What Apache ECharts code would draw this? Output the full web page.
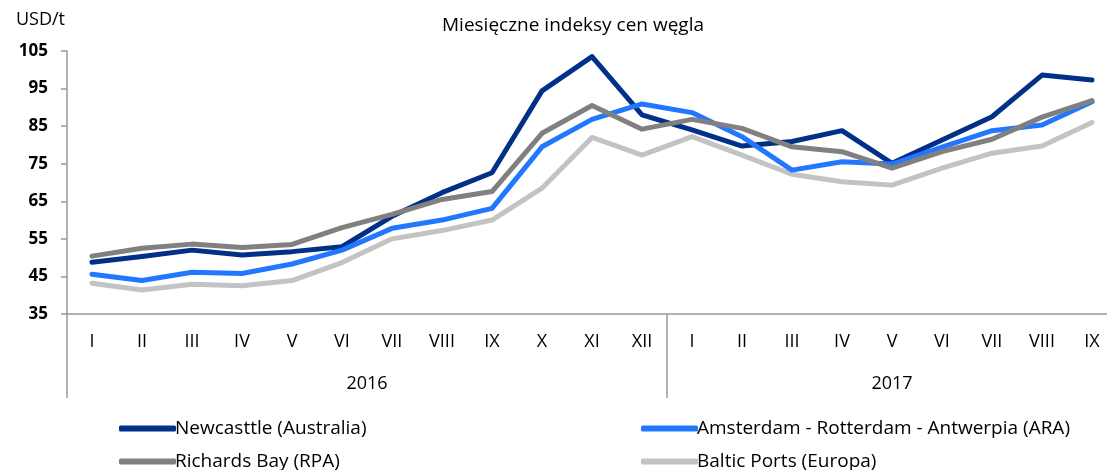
<!DOCTYPE html>
<html>
<head>
<meta charset="utf-8">
<script src="https://cdn.jsdelivr.net/npm/echarts@6/dist/echarts.min.js"></script>
<style>
  html, body { margin: 0; padding: 0; background: #fff; }
  #chart { width: 1107px; height: 470px; }
</style>
</head>
<body>
<div id="chart"></div>
<script>
const months = ['I', 'II', 'III', 'IV', 'V', 'VI', 'VII', 'VIII', 'IX', 'X', 'XI', 'XII',
  'I', 'II', 'III', 'IV', 'V', 'VI', 'VII', 'VIII', 'IX']
const years = ['2016', '2017']
const yearSpans = [12, 9]

const newcastle = [48.8, 50.3, 52.0, 50.7, 51.6, 52.9, 61.0, 67.3, 72.6, 94.4, 103.5, 88.0,
  84.0, 79.7, 80.9, 83.8, 75.1, 81.3, 87.5, 98.6, 97.3]
const ara = [45.6, 43.9, 46.1, 45.8, 48.3, 52.0, 57.8, 60.0, 63.1, 79.5, 86.8, 90.9,
  88.6, 82.2, 73.3, 75.5, 74.9, 79.4, 83.8, 85.3, 91.5]
const richardsBay = [50.4, 52.5, 53.6, 52.7, 53.5, 58.0, 61.5, 65.5, 67.6, 83.1, 90.5, 84.2,
  86.8, 84.4, 79.5, 78.2, 73.8, 78.2, 81.5, 87.4, 91.8]
const baltic = [43.2, 41.4, 42.9, 42.5, 43.9, 48.7, 55.0, 57.2, 60.0, 68.5, 82.0, 77.3,
  82.2, 77.3, 72.2, 70.2, 69.3, 73.8, 77.8, 79.7, 86.0]

const names = ['Newcasttle (Australia)', 'Amsterdam - Rotterdam - Antwerpia (ARA)',
  'Richards Bay (RPA)', 'Baltic Ports (Europa)']

// granice lat i środki etykiet na osi pomocniczej
const yearEdges = [0]
const yearMids = []
yearSpans.forEach((s, i) => {
  yearMids.push(yearEdges[i] + s / 2)
  yearEdges.push(yearEdges[i] + s)
})

const font = 'Open Sans'
const axisColor = '#999'
const textColor = '#000'

const chart = echarts.init(document.getElementById('chart'))

function line(name, data, color, z) {
  return {
    name: name,
    type: 'line',
    data: data,
    symbol: 'none',
    z: z,
    lineStyle: { width: 5, color: color, cap: 'round', join: 'round' },
    itemStyle: { color: color }
  }
}

function legendCol(left, data) {
  return {
    left: left, top: 414, height: 80, orient: 'vertical', itemGap: 14,
    itemWidth: 57, itemHeight: 6, icon: 'roundRect', itemStyle: { borderWidth: 0 },
    data: data,
    textStyle: { fontFamily: font, fontSize: 19, color: textColor, padding: [0, 0, 0, -6] }
  }
}

chart.setOption({
  animation: false,
  textStyle: { fontFamily: font },
  title: {
    text: 'Miesięczne indeksy cen węgla',
    left: 437,
    top: 11,
    textStyle: { fontFamily: font, fontSize: 19, fontWeight: 'normal', color: textColor }
  },
  grid: { left: 67, width: 1050, top: 51, bottom: 156, outerBoundsMode: 'none' },
  legend: [
    legendCol(114, [names[0], names[2]]),
    legendCol(636, [names[1], names[3]])
  ],
  xAxis: [
    {
      type: 'category',
      data: months,
      boundaryGap: true,
      axisLine: { lineStyle: { color: axisColor, width: 1.5 } },
      axisTick: { length: 42, interval: 0, lineStyle: { color: axisColor, width: 1.5 } },
      axisLabel: { interval: 0, margin: 19, fontSize: 18, color: textColor, fontFamily: font }
    },
    {
      type: 'value',
      position: 'bottom',
      min: 0,
      max: months.length,
      axisLine: { show: false },
      splitLine: { show: false },
      axisTick: {
        show: true, length: 84, customValues: yearEdges.slice(0, -1),
        lineStyle: { color: axisColor, width: 1.5 }
      },
      axisLabel: {
        customValues: yearMids,
        margin: 61,
        fontSize: 18,
        color: textColor,
        fontFamily: font,
        formatter: v => years[yearMids.indexOf(v)] || ''
      }
    }
  ],
  yAxis: {
    type: 'value',
    name: 'USD/t',
    nameLocation: 'end',
    nameGap: 22,
    nameTextStyle: { fontSize: 18, color: textColor, align: 'right', padding: [0, 2, 0, 0], fontFamily: font },
    min: 35,
    max: 105,
    interval: 10,
    splitLine: { show: false },
    axisLine: { show: true, lineStyle: { color: axisColor, width: 1.5 } },
    axisTick: { show: true, length: 6, lineStyle: { color: axisColor, width: 1.5 } },
    axisLabel: { fontSize: 17, fontWeight: 'bold', color: textColor, margin: 19, fontFamily: font }
  },
  series: [
    line(names[3], baltic, '#c3c3c3', 1),
    line(names[0], newcastle, '#003087', 2),
    line(names[1], ara, '#2277ff', 3),
    line(names[2], richardsBay, '#808080', 4)
  ]
})
</script>
</body>
</html>
